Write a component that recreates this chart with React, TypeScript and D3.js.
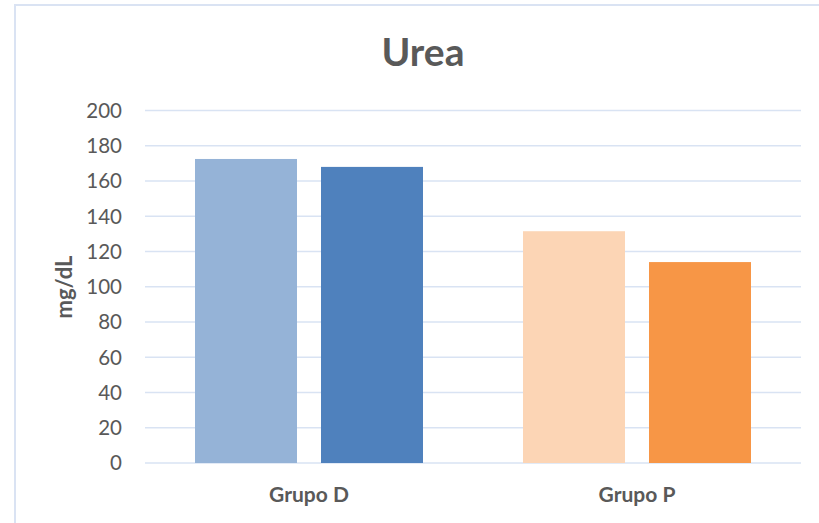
import React from "react";
import * as d3 from "d3";

const categories = ["Grupo D", "Grupo P"];
const seriesKeys = ["s1", "s2"];
const valuesD = [172.5, 168];
const valuesP = [131.5, 114];
const yTicks = [0, 20, 40, 60, 80, 100, 120, 140, 160, 180, 200];
const colorsD = ["#95b3d7", "#4f81bd"];
const colorsP = ["#fcd5b5", "#f79646"];
const title = "Urea";
const yTitle = "mg/dL";

const W = 819;
const H = 523;
const plot = { left: 145, right: 801, top: 110.5, bottom: 463 };
const FONT = "Lato, 'Open Sans', sans-serif";
const TXT = "#595959";

export default function App() {
  const x0 = d3.scaleBand<string>().domain(categories).range([plot.left, plot.right]).paddingInner(0).paddingOuter(0);
  const x1 = d3
    .scaleBand<string>()
    .domain(seriesKeys)
    .range([50, x0.bandwidth() - 50])
    .paddingInner(0.1905)
    .paddingOuter(0);
  const y = d3.scaleLinear().domain([0, 200]).range([plot.bottom, plot.top]);
  const data = [valuesD, valuesP];
  const colors = [colorsD, colorsP];

  return (
    <svg width={W} height={H} style={{ position: "absolute", left: 0, top: 0, display: "block" }}>
      <rect x={0} y={0} width={W} height={H} fill="#fff" />
      <rect x={15} y={5} width={W + 10} height={H + 10} fill="none" stroke="#dae3f3" strokeWidth={2} />
      <text x={423} y={66} textAnchor="middle" fontFamily={FONT} fontWeight="bold" fontSize={39} fill={TXT}>
        {title}
      </text>
      {yTicks.map((t) => (
        <g key={t}>
          <line x1={plot.left} x2={plot.right} y1={y(t)} y2={y(t)} stroke="#d9e3f3" strokeWidth={1.5} />
          <text x={122} y={y(t)} dy="0.36em" textAnchor="end" fontFamily={FONT} fontSize={20.5} fill={TXT}>
            {t}
          </text>
        </g>
      ))}
      {categories.map((c, ci) => (
        <g key={c} transform={`translate(${x0(c)},0)`}>
          {seriesKeys.map((k, si) => (
            <rect
              key={k}
              x={x1(k)}
              y={y(data[ci][si])}
              width={x1.bandwidth()}
              height={y(0) - y(data[ci][si])}
              fill={colors[ci][si]}
            />
          ))}
          <text
            x={x0.bandwidth() / 2}
            y={502}
            textAnchor="middle"
            fontFamily={FONT}
            fontWeight="bold"
            fontSize={21}
            fill={TXT}
          >
            {c}
          </text>
        </g>
      ))}
      <text
        transform={`translate(72,287) rotate(-90)`}
        textAnchor="middle"
        fontFamily={FONT}
        fontWeight="bold"
        fontSize={22}
        fill={TXT}
      >
        {yTitle}
      </text>
    </svg>
  );
}
